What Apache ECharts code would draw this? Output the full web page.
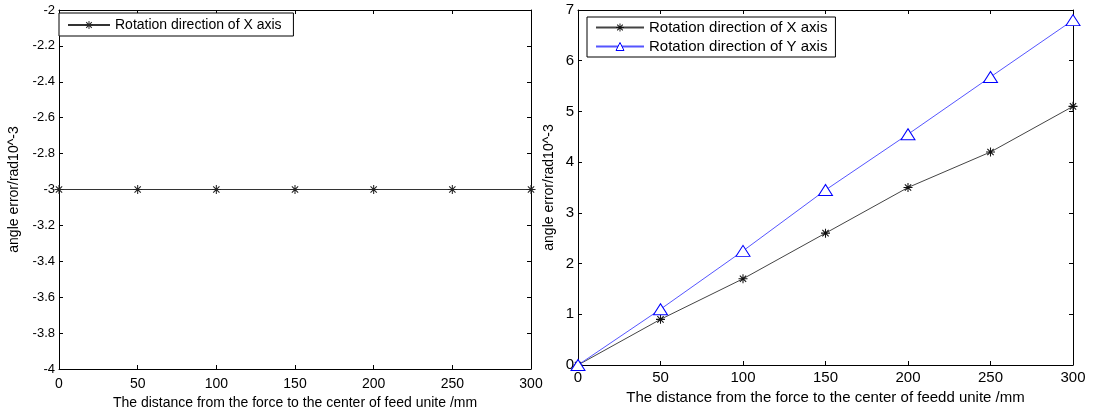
<!DOCTYPE html>
<html>
<head>
<meta charset="utf-8">
<script src="https://cdn.jsdelivr.net/npm/echarts@6/dist/echarts.min.js"></script>
<style>
  * { margin: 0; padding: 0; }
  body { background: #fff; }
  #chart-container { width: 1093px; height: 410px; }
</style>
</head>
<body>
<div id="chart-container"></div>
<script>
  // distances (mm)
  var distances = [0, 50, 100, 150, 200, 250, 300]
  // left plot: rotation direction of X axis
  var leftX = [-3, -3, -3, -3, -3, -3, -3]
  // right plot
  var rightX = [0, 0.9, 1.7, 2.6, 3.5, 4.2, 5.1]
  var rightY = [0, 1.1, 2.25, 3.45, 4.55, 5.68, 6.8]

  var star = 'path://M-0.7,-6L0.7,-6L0.7,6L-0.7,6Z M-6,-0.7L6,-0.7L6,0.7L-6,0.7Z M-4.7,-3.7L-3.7,-4.7L4.7,3.7L3.7,4.7Z M3.7,-4.7L4.7,-3.7L-3.7,4.7L-4.7,3.7Z'

  function pairs(xs, ys) {
    return xs.map(function (x, i) { return [x, ys[i]] })
  }

  var font = 'Liberation Sans, Arial, sans-serif'

  function xAx(grid, name, top, fs, margin, gap) {
    return {
      type: 'value', gridIndex: grid, min: 0, max: 300, interval: 50,
      position: top ? 'top' : 'bottom',
      name: top ? '' : name, nameLocation: 'middle', nameGap: gap,
      nameTextStyle: { color: '#000', fontSize: fs, fontFamily: font },
      axisLine: { show: true, onZero: false, lineStyle: { color: '#000', width: 1 } },
      axisTick: { show: true, inside: true, length: 4, lineStyle: { color: '#000' } },
      axisLabel: top ? { show: false } : { margin: margin, color: '#000', fontSize: fs, fontFamily: font },
      splitLine: { show: false }
    }
  }

  function yAx(grid, min, max, step, right, gap, fs) {
    return {
      type: 'value', gridIndex: grid, min: min, max: max, interval: step,
      position: right ? 'right' : 'left',
      name: right ? '' : 'angle error/rad10^-3', nameLocation: 'middle', nameGap: gap,
      nameTextStyle: { color: '#000', fontSize: 14, fontFamily: font },
      axisLine: { show: true, onZero: false, lineStyle: { color: '#000', width: 1 } },
      axisTick: { show: true, inside: true, length: 4, lineStyle: { color: '#000' } },
      axisLabel: right ? { show: false } : {
        margin: 4, color: '#000', fontSize: fs, fontFamily: font,
        formatter: function (v) { return String(Math.round(v * 10) / 10) }
      },
      splitLine: { show: false }
    }
  }

  var chart = echarts.init(document.getElementById('chart-container'), null, { renderer: 'canvas' })
  var option = {
    animation: false,
    backgroundColor: '#fff',
    grid: [
      { left: 59, right: 562, top: 10, bottom: 41, outerBoundsMode: 'none' },
      { left: 578, right: 20, top: 10, bottom: 45, outerBoundsMode: 'none' }
    ],
    xAxis: [
      xAx(0, 'The distance from the force to the center of feed unite /mm', false, 14, 8, 26),
      xAx(0, '', true, 14, 0, 0),
      xAx(1, 'The distance from the force to the center of feedd unite /mm', false, 15, 5, 20),
      xAx(1, '', true, 15, 0, 0)
    ],
    yAxis: [
      yAx(0, -4, -2, 0.2, false, 38, 13),
      yAx(0, -4, -2, 0.2, true, 0, 13),
      yAx(1, 0, 7, 1, false, 22, 15),
      yAx(1, 0, 7, 1, true, 0, 15)
    ],
    legend: [
      {
        left: 59, top: 13, orient: 'vertical',
        data: ['Rotation direction of X axis '],
        borderColor: '#000', borderWidth: 1, backgroundColor: '#fff',
        padding: [5, 8, 4, 8], itemWidth: 42, itemHeight: 10,
        textStyle: { color: '#000', fontSize: 14, fontFamily: font }
      },
      {
        left: 587, top: 17, orient: 'vertical', itemGap: 4,
        data: ['Rotation direction of X axis', 'Rotation direction of Y axis'],
        borderColor: '#000', borderWidth: 1, backgroundColor: '#fff',
        padding: [3, 8, 3, 8], itemWidth: 48, itemHeight: 10,
        itemStyle: { borderWidth: 1 },
        textStyle: { color: '#000', fontSize: 15, fontFamily: font }
      }
    ],
    series: [
      {
        name: 'Rotation direction of X axis ', type: 'line', xAxisIndex: 0, yAxisIndex: 0,
        data: pairs(distances, leftX), symbol: star, symbolSize: 9,
        lineStyle: { color: '#333', width: 1 },
        itemStyle: { color: '#222' }
      },
      {
        name: 'Rotation direction of X axis', type: 'line', xAxisIndex: 2, yAxisIndex: 2,
        data: pairs(distances, rightX), symbol: star, symbolSize: 9,
        lineStyle: { color: '#444', width: 1 },
        itemStyle: { color: '#111' }
      },
      {
        name: 'Rotation direction of Y axis', type: 'line', xAxisIndex: 2, yAxisIndex: 2,
        data: pairs(distances, rightY), symbol: 'triangle', symbolSize: [14, 11],
        lineStyle: { color: '#5555ff', width: 1 },
        itemStyle: { color: '#fff', borderColor: '#0000ff', borderWidth: 1 }
      }
    ]
  }
  chart.setOption(option)
  window.addEventListener('resize', chart.resize)
</script>
</body>
</html>
